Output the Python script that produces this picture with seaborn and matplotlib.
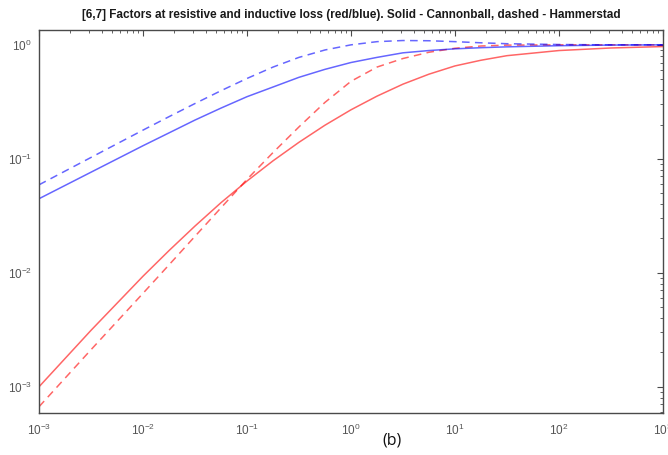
import numpy as np
import pandas as pd
import matplotlib
matplotlib.use("Agg")
import matplotlib.pyplot as plt
from matplotlib.ticker import LogLocator, LogFormatterMathtext, NullFormatter
import seaborn as sns

# Normalised frequency (log-spaced sample points)
freq = [0.001, 0.00316, 0.01, 0.0178, 0.0316, 0.0562, 0.1, 0.178, 0.316, 0.562,
        1.0, 1.78, 3.16, 5.62, 10.0, 17.8, 31.6, 100.0, 316.0, 1000.0]

# Resistive-loss factor (red) and inductive-loss factor (blue)
resistive_cannonball = [0.001, 0.003126, 0.009333, 0.01567, 0.0257, 0.04121,
                        0.06383, 0.09605, 0.1396, 0.1972, 0.2692, 0.3548, 0.4519,
                        0.5529, 0.6531, 0.7328, 0.8035, 0.8913, 0.9386, 0.966]
resistive_hammerstad = [0.0006683, 0.002113, 0.006607, 0.01175, 0.02089, 0.03715,
                        0.06607, 0.1135, 0.1905, 0.3126, 0.4786, 0.6383, 0.7586,
                        0.861, 0.9333, 0.9772, 0.9943, 1.0, 1.0, 1.0]
inductive_cannonball = [0.04467, 0.0763, 0.1303, 0.1689, 0.2188, 0.2786, 0.3508,
                        0.4266, 0.5188, 0.6095, 0.6998, 0.7762, 0.8511, 0.8913,
                        0.9226, 0.9441, 0.9605, 0.9829, 0.9954, 1.0]
inductive_hammerstad = [0.05916, 0.1028, 0.1786, 0.2344, 0.3055, 0.3958, 0.507,
                        0.6383, 0.7762, 0.9016, 1.0, 1.0666, 1.0914, 1.0864,
                        1.0666, 1.0423, 1.0233, 1.0069, 1.0, 1.0]

title = ("[6,7] Factors at resistive and inductive loss (red/blue). "
         "Solid - Cannonball, dashed - Hammerstad")

sns.set_theme(style="white")
plt.rcParams["font.family"] = ["Liberation Sans", "DejaVu Sans"]

fig = plt.figure(figsize=(6.68, 4.55), dpi=100)
ax = fig.add_axes([0.0584, 0.0923, 0.934, 0.8417])

curves = [
    (resistive_cannonball, "red", "-"),
    (resistive_hammerstad, "red", "--"),
    (inductive_cannonball, "blue", "-"),
    (inductive_hammerstad, "blue", "--"),
]
for values, col, ls in curves:
    df = pd.DataFrame({"f": freq, "k": values})
    sns.lineplot(data=df, x="f", y="k", ax=ax, color=col, alpha=0.6,
                 linewidth=1.1, estimator=None, sort=False)
    line = ax.lines[-1]
    if ls == "--":
        line.set_dashes((5, 3.5))

ax.set_xscale("log")
ax.set_yscale("log")
ax.set_xlim(1e-3, 1e3)
ax.set_ylim(10 ** -3.23, 10 ** 0.13)
ax.set_xlabel("")
ax.set_ylabel("")

ax.xaxis.set_major_locator(LogLocator(base=10, numticks=12))
ax.yaxis.set_major_locator(LogLocator(base=10, numticks=12))
ax.xaxis.set_minor_locator(LogLocator(base=10, subs=np.arange(2, 10), numticks=12))
ax.yaxis.set_minor_locator(LogLocator(base=10, subs=np.arange(2, 10), numticks=12))
ax.xaxis.set_major_formatter(LogFormatterMathtext())
ax.yaxis.set_major_formatter(LogFormatterMathtext())
ax.xaxis.set_minor_formatter(NullFormatter())
ax.yaxis.set_minor_formatter(NullFormatter())

ax.tick_params(which="both", direction="in", top=True, right=True,
               colors="#4a4a4a", labelcolor="#555555", labelsize=8.5)
ax.tick_params(which="major", length=4, width=0.8)
ax.tick_params(which="minor", length=2, width=0.6)
ax.tick_params(axis="x", pad=7)
ax.tick_params(axis="y", pad=5)
for s in ax.spines.values():
    s.set_color("#4a4a4a")
    s.set_linewidth(1.0)

ax.set_title(title, fontsize=8.5, fontweight="bold", color="#1a1a1a", pad=9)
fig.text(0.587, 0.031, "(b)", fontsize=11.5, ha="center", va="center",
         color="#111111", family=["Open Sans", "DejaVu Sans"])

fig.savefig("out.png", dpi=100)
